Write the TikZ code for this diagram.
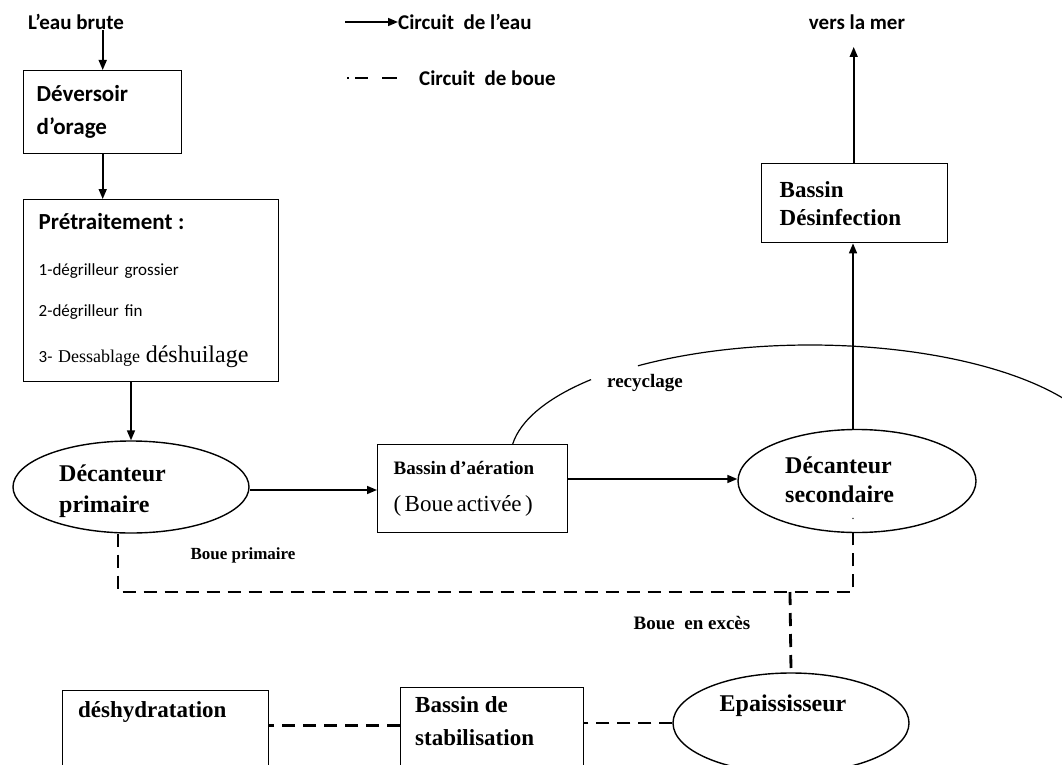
\documentclass[tikz,border=0pt]{standalone}
\usepackage{fontspec}
\setmainfont{Liberation Serif}
\newfontfamily\calib{Carlito}
\usetikzlibrary{shapes.geometric,arrows.meta}

\begin{document}
\begin{tikzpicture}[x=1pt,y=-1pt,>={Triangle[length=10pt,width=8pt]},
  box/.style={draw,line width=1.4pt,inner sep=0pt,anchor=north west},
  tank/.style={draw,ellipse,line width=1.4pt,inner sep=0pt},
  water/.style={->,line width=1.6pt},
  sludge/.style={line width=2.8pt,dash pattern=on 13pt off 8pt},
  sans/.style={font=\calib\bfseries\fontsize{21}{25}\selectfont,inner sep=0pt},
  serif/.style={font=\bfseries\fontsize{24}{30}\selectfont,align=left,inner sep=0pt}]
  \useasboundingbox (0,0) rectangle (1062,765);
  \clip (0,0) rectangle (1062,765);

  % legend
  \node[sans,anchor=west] (legw) at (398,22) {Circuit\ \ de l’eau};
  \node[sans,anchor=west] (legb) at (419,78) {Circuit\ \ de boue};
  \coordinate (lw) at (345,22);
  \coordinate (lb1) at (347,78);
  \coordinate (lb2) at (398,78);
  \draw[water] (lw) -- (legw.west);
  \draw[line width=2.8pt,dash pattern=on 2pt off 6pt on 13pt off 14pt on 15pt] (lb1) -- (lb2);

  % water line
  \node[sans] (raw) at (76,22) {L’eau brute};
  \node[box,minimum width=158pt,minimum height=83pt,text width=132pt,align=left,
        font=\calib\bfseries\fontsize{23}{33}\selectfont] (dev) at (23,70) {Déversoir\\d’orage};
  \node[box,minimum width=255pt,minimum height=182pt,text width=225pt,align=left,
        font=\calib\fontsize{17}{24}\selectfont] (pre) at (23,199)
        {{\bfseries\fontsize{23}{24}\selectfont Prétraitement :}\\[22pt]
         1-dégrilleur grossier\\[17pt]
         2-dégrilleur fin\\[22pt]
         3- {\rmfamily\fontsize{18}{24}\selectfont Dessablage \fontsize{24}{24}\selectfont déshuilage}};
  \node[tank,minimum width=236pt,minimum height=92pt] (dp) at (131,487) {};
  \node[serif,anchor=west,font=\bfseries\fontsize{24}{31}\selectfont] (dptxt) at (59,491) {Décanteur\\primaire};
  \node[box,minimum width=190pt,minimum height=88pt,text width=158pt,align=left] (aer) at (377,444)
        {{\bfseries\fontsize{19}{24}\selectfont Bassin d’aération}\\[20pt]
         {\fontsize{23}{24}\selectfont ( Boue activée )}};
  \node[tank,minimum width=238pt,minimum height=103pt] (ds) at (857,481) {};
  \node[serif,anchor=west,font=\bfseries\fontsize{24}{29}\selectfont] (dstxt) at (785,480) {Décanteur\\secondaire};
  \node[inner sep=0pt,font=\fontsize{12}{12}\selectfont] (dsdot) at (853,519) {.};
  \node[box,minimum width=186pt,minimum height=79pt,text width=150pt,align=left,
        font=\bfseries\fontsize{23}{28}\selectfont] (dis) at (761,163) {Bassin\\Désinfection};
  \node[sans] (sea) at (857,22) {vers la mer};

  \draw[water] (raw.south -| dev.north) -- (dev.north);
  \draw[water] (dev.south) -- (dev.south |- pre.north);
  \draw[water] (pre.south -| dp.north) -- (dp.north);
  \draw[water] (dp.east |- 0,490) -- (aer.west |- 0,490);
  \draw[water] (aer.east |- 0,479) -- (ds.west |- 0,479);
  \draw[water] ([xshift=-4pt]ds.north) -- ([xshift=-4pt]ds.north |- dis.south);
  \draw[water] ([xshift=-1pt]dis.north) -- ([xshift=-1pt]dis.north |- 0,47);

  % recycling
  \node[inner sep=0pt,anchor=west,font=\bfseries\fontsize{19}{24}\selectfont] (rec) at (607,383) {recyclage};
  \draw[line width=1.2pt] ([xshift=40pt]aer.north) arc[start angle=-173,end angle=-137,x radius=300,y radius=115];
  \draw[line width=1.2pt] (810,460) ++(-125:300 and 115) arc[start angle=-125,end angle=-25,x radius=300,y radius=115];

  % sludge line
  \node[tank,minimum width=236pt,minimum height=100pt] (ep) at (791,723) {};
  \node[serif] (eptxt) at (783,706) {Epaississeur};
  \node[box,minimum width=183pt,minimum height=100pt] (stab) at (400,687) {};
  \node[serif,anchor=west,font=\bfseries\fontsize{23}{33}\selectfont] (stabtxt) at (415,721) {Bassin de\\stabilisation};
  \node[box,minimum width=206pt,minimum height=100pt] (deh) at (62,690) {};
  \node[serif,anchor=west,font=\bfseries\fontsize{23}{28}\selectfont] (dehtxt) at (78,712) {déshydratation};
  \coordinate (jn) at (790,592);
  \node[serif,font=\bfseries\fontsize{17}{20}\selectfont] (bp) at (243,555) {Boue primaire};
  \node[serif,font=\bfseries\fontsize{19}{20}\selectfont] (be) at (692,623) {Boue\ \ en excès};

  \draw[sludge] ([xshift=-13pt]dp.south) |- (jn) -| ([xshift=-4pt]ds.south);
  \draw[sludge] (jn) -- (ep.north);
  \draw[sludge] (ep.west) -- (ep.west -| stab.east);
  \draw[sludge] ([yshift=12pt]stab.west) -- ([yshift=12pt]stab.west -| deh.east);
\end{tikzpicture}
\end{document}
